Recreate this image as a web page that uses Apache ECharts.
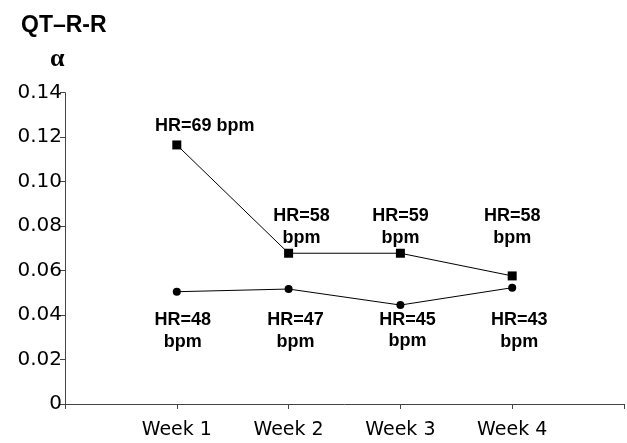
<!DOCTYPE html>
<html>
<head>
<meta charset="utf-8">
<script src="https://cdn.jsdelivr.net/npm/echarts@6/dist/echarts.min.js"></script>
<style>
  html, body { margin: 0; padding: 0; background: #fff; }
  #chart { width: 627px; height: 443px; }
</style>
</head>
<body>
<div id="chart"></div>
<script>
// Categories on the x axis (padded with empty slots at both ends)
const weeks = ['', 'Week 1', 'Week 2', 'Week 3', 'Week 4', ''];
// QT–R-R slope alpha per week, two subjects
const alphaSquare = [0.1165, 0.0678, 0.0678, 0.0576];
const alphaCircle = [0.0505, 0.0517, 0.0445, 0.0523];
// Heart rate (bpm) annotated at each point
const hrSquare = [69, 58, 59, 58];
const hrCircle = [48, 47, 45, 43];
// Y axis ticks
const yTicks = [0, 0.02, 0.04, 0.06, 0.08, 0.10, 0.12, 0.14];

const FONT = '"Liberation Sans", Arial, sans-serif';
const AXIS_FONT = '"DejaVu Sans", sans-serif';

// label placement tweaks per point [dx, dy]
const sqOffsets = [[28, -4], [13, 0], [0, 0], [0, -22.5]];
const ciOffsets = [[6, 13.5], [7, 16.2], [7, 0], [7, 17.5]];

function pad(arr) { return [null].concat(arr, [null]); }

const labelStyle = {
  show: true,
  color: '#000',
  fontFamily: FONT,
  fontWeight: 'bold',
  fontSize: 18,
  lineHeight: 21.6,
  distance: 0
};

const squareData = pad(alphaSquare.map((v, i) => ({
  value: v,
  label: Object.assign({}, labelStyle, {
    position: 'top',
    offset: sqOffsets[i],
    formatter: i === 0 ? 'HR=' + hrSquare[i] + ' bpm' : 'HR=' + hrSquare[i] + '\nbpm'
  })
})));

const circleData = pad(alphaCircle.map((v, i) => ({
  value: v,
  label: Object.assign({}, labelStyle, {
    position: 'bottom',
    offset: ciOffsets[i],
    formatter: 'HR=' + hrCircle[i] + '\nbpm'
  })
})));

const chart = echarts.init(document.getElementById('chart'));
chart.setOption({
  animation: false,
  backgroundColor: '#fff',
  grid: { left: 65, right: 0, top: 92.7, bottom: 39 },
  graphic: [
    { type: 'text', left: 21, top: 14,
      style: { text: 'QT\u2013R-R', font: 'bold 23px ' + FONT, fill: '#000' } },
    { type: 'text', left: 50, top: 46,
      style: { text: '\u03b1', font: 'bold 26px "Liberation Serif", "DejaVu Serif", serif', fill: '#000' } }
  ],
  xAxis: {
    type: 'category',
    data: weeks,
    boundaryGap: false,
    axisLine: { lineStyle: { color: '#444', width: 1 } },
    axisTick: { show: true, length: 5, interval: 0, lineStyle: { color: '#444' } },
    axisLabel: { color: '#000', fontFamily: AXIS_FONT, fontSize: 19, margin: 17, interval: 0 },
    splitLine: { show: false }
  },
  yAxis: {
    type: 'value',
    min: yTicks[0],
    max: yTicks[yTicks.length - 1],
    interval: 0.02,
    axisLine: { show: true, lineStyle: { color: '#444', width: 1 } },
    axisTick: { show: true, length: 5, lineStyle: { color: '#444' } },
    axisLabel: {
      color: '#000', fontFamily: AXIS_FONT, fontSize: 20, margin: 3,
      formatter: v => (Math.abs(v) < 1e-9 ? '0' : v.toFixed(2))
    },
    splitLine: { show: false }
  },
  series: [
    {
      type: 'line',
      data: squareData,
      symbol: 'rect',
      symbolSize: 9,
      itemStyle: { color: '#000' },
      lineStyle: { color: '#000', width: 1 },
      connectNulls: false
    },
    {
      type: 'line',
      data: circleData,
      symbol: 'circle',
      symbolSize: 8,
      itemStyle: { color: '#000' },
      lineStyle: { color: '#000', width: 1 },
      connectNulls: false
    }
  ]
});
</script>
</body>
</html>
